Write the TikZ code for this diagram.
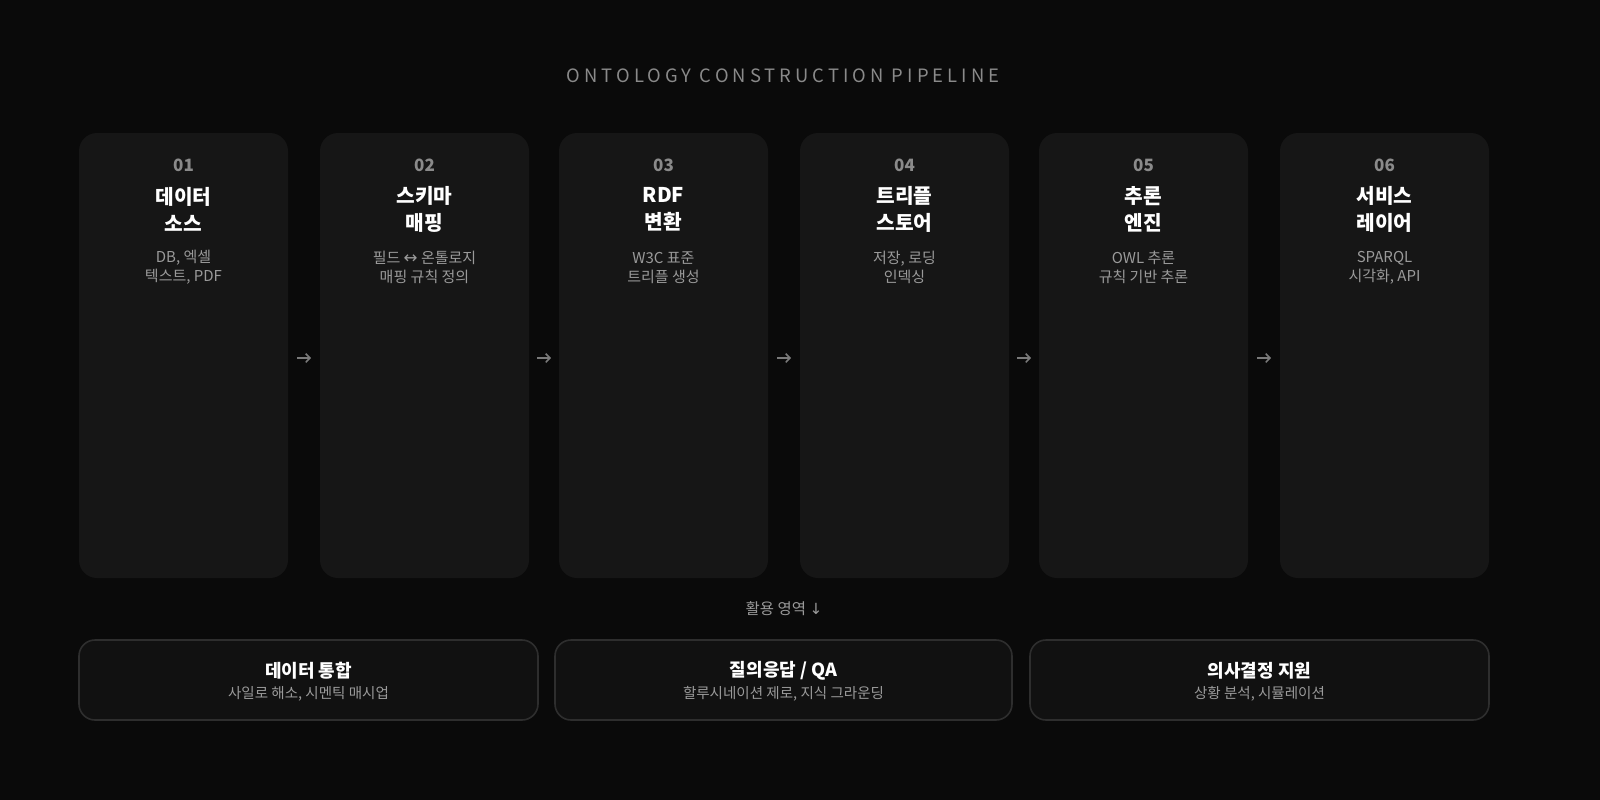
\documentclass[tikz,border=0pt]{standalone}
\usepackage{fontspec}
\usetikzlibrary{arrows.meta,calc}
\setmainfont{Noto Sans CJK KR}
\newfontfamily\titlefont[LetterSpace=22]{Noto Sans CJK KR}
\newfontfamily\arrowfont{DejaVu Sans}
\definecolor{bg}{HTML}{0A0A0A}
\definecolor{card}{HTML}{161616}
\definecolor{numc}{HTML}{8A8A8A}
\definecolor{descc}{HTML}{9A9A9A}
\definecolor{boxfill}{HTML}{111111}
\definecolor{boxline}{HTML}{2E2E2E}
\definecolor{arrc}{HTML}{7A7A7A}
\tikzset{
  cardbox/.style={fill=card, rounded corners=13.5pt, minimum width=156.75pt, minimum height=333.75pt, inner sep=0pt},
  numtext/.style={text=numc, font=\fontsize{12.75}{15}\selectfont\bfseries},
  ttltext/.style={text=white, font=\fontsize{15.2}{20.25}\selectfont\bfseries, align=center},
  desctext/.style={text=descc, font=\fontsize{11.25}{14.25}\selectfont, align=center},
  arr/.style={draw=arrc, line width=1.1pt, -{Straight Barb[length=3.2pt,width=6.5pt,line width=1.1pt]}},
  usebox/.style={fill=boxfill, draw=boxline, line width=1.2pt, rounded corners=12pt, minimum height=60pt, inner sep=0pt},
  usettl/.style={text=white, font=\fontsize{13.5}{16}\selectfont\bfseries},
  usesub/.style={text=descc, font=\fontsize{10.9}{13}\selectfont},
}
\begin{document}
\begin{tikzpicture}[x=0.75pt,y=-0.75pt]
\fill[bg] (0,0) rectangle (1600,800);
\node[text=numc, font=\titlefont\fontsize{13.8}{16}\selectfont] (title) at (783,76) {ONTOLOGY CONSTRUCTION PIPELINE};
% cards
\foreach \i/\cx/\n/\ta/\tb/\da/\db in {
 1/183.5/01/데이터/소스/{DB, 엑셀}/{텍스트, PDF},
 2/424.5/02/스키마/매핑/{필드 {\arrowfont\fontsize{12.5}{12}\selectfont↔} 온톨로지}/{매핑 규칙 정의},
 3/663.5/03/RDF/변환/{W3C 표준}/{트리플 생성},
 4/904.5/04/트리플/스토어/{저장, 로딩}/{인덱싱},
 5/1143.5/05/추론/엔진/{OWL 추론}/{규칙 기반 추론},
 6/1384.5/06/서비스/레이어/{SPARQL}/{시각화, API}}{
  \node[cardbox] (c\i) at (\cx,355.5) {};
  \node[numtext] (n\i) at (\cx,165) {\n};
  \node[ttltext] (t\i) at (\cx,209.5) {\ta\\\tb};
  \node[desctext] (d\i) at (\cx,267.5) {\da\\\db};
}
\foreach \i/\j in {1/2,2/3,3/4,4/5,5/6}{
  \coordinate (m\i) at ($(c\i.east)!0.5!(c\j.west)+(0,2.5)$);
  \draw[arr] ($(m\i)+(-7,0)$) -- ($(m\i)+(7,0)$);
}
\node[text=descc, font=\fontsize{11.6}{14}\selectfont] (uselbl) at (784,609) {활용 영역 {\arrowfont\fontsize{11.5}{12}\selectfont↓}};
\foreach \i/\cx/\w/\ta/\tb in {
 1/308.5/459/{데이터 통합}/{사일로 해소, 시멘틱 매시업},
 2/783.5/457/{질의응답 / QA}/{할루시네이션 제로, 지식 그라운딩},
 3/1259.5/459/{의사결정 지원}/{상황 분석, 시뮬레이션}}{
  \node[usebox, minimum width=\w*0.75pt] (u\i) at (\cx,680) {};
  \node[usettl] (ut\i) at (\cx,670.5) {\ta};
  \node[usesub] (us\i) at (\cx,694) {\tb};
}
\pgfresetboundingbox
\useasboundingbox (0,0) rectangle (1600,800);
\end{tikzpicture}
\end{document}
